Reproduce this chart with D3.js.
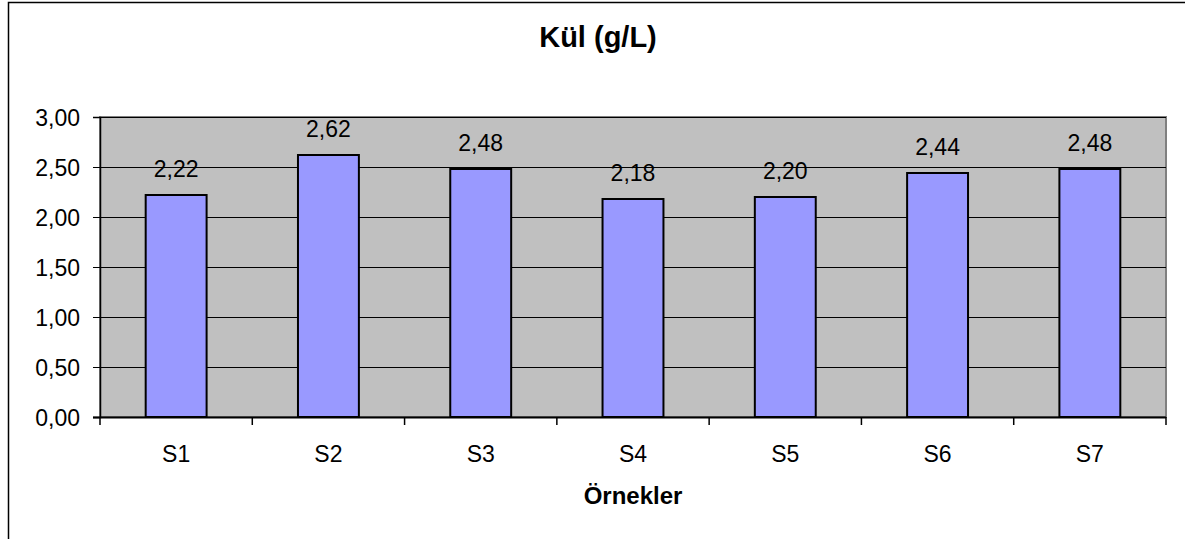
<!DOCTYPE html>
<html>
<head>
<meta charset="utf-8">
<script src="https://cdn.jsdelivr.net/npm/d3@7"></script>
<style>
  body { margin: 0; background: #fff; }
  text { font-family: "Liberation Sans", Arial, sans-serif; }
</style>
</head>
<body>
<div id="chart"></div>
<script>
// data
var categories = ["S1", "S2", "S3", "S4", "S5", "S6", "S7"];
var values = [2.22, 2.62, 2.48, 2.18, 2.20, 2.44, 2.48];
var yTicks = [0, 0.5, 1, 1.5, 2, 2.5, 3];

var width = 1185, height = 539;
var plot = { left: 100, top: 117, right: 1166, bottom: 417 };

var fmt = function (v) { return d3.format(".2f")(v).replace(".", ","); };

var svg = d3.select("#chart").append("svg")
    .attr("width", width)
    .attr("height", height);

// outer chart border
svg.append("rect")
    .attr("x", 8.5).attr("y", 2.5)
    .attr("width", width).attr("height", height)
    .attr("fill", "#fff")
    .attr("stroke", "#000")
    .attr("stroke-width", 1.5);

var x = d3.scaleBand()
    .domain(categories)
    .range([plot.left, plot.right])
    .paddingInner(0.6)
    .paddingOuter(0.3);

var y = d3.scaleLinear()
    .domain([0, 3])
    .range([plot.bottom, plot.top]);

// plot background
svg.append("rect")
    .attr("x", plot.left).attr("y", plot.top)
    .attr("width", plot.right - plot.left)
    .attr("height", plot.bottom - plot.top)
    .attr("fill", "#c0c0c0")
    .attr("stroke", "#808080")
    .attr("stroke-width", 2);

// gridlines
svg.append("g").selectAll("line")
    .data(yTicks.filter(function (d) { return d > 0; }))
    .enter().append("line")
    .attr("x1", plot.left).attr("x2", plot.right)
    .attr("y1", function (d) { return Math.round(y(d)) + 0.5; })
    .attr("y2", function (d) { return Math.round(y(d)) + 0.5; })
    .attr("stroke", "#000")
    .attr("stroke-width", 1);

// bars
svg.append("g").selectAll("rect")
    .data(values)
    .enter().append("rect")
    .attr("x", function (d, i) { return x(categories[i]); })
    .attr("y", function (d) { return y(d); })
    .attr("width", x.bandwidth())
    .attr("height", function (d) { return plot.bottom - y(d); })
    .attr("fill", "#9999ff")
    .attr("stroke", "#000")
    .attr("stroke-width", 2);

// value labels
svg.append("g").selectAll("text")
    .data(values)
    .enter().append("text")
    .attr("x", function (d, i) { return x(categories[i]) + x.bandwidth() / 2; })
    .attr("y", function (d) { return y(d) - 18; })
    .attr("text-anchor", "middle")
    .attr("font-size", 23)
    .text(function (d) { return fmt(d); });

// y axis
var yAxis = svg.append("g")
    .attr("transform", "translate(" + plot.left + ",0)")
    .call(d3.axisLeft(y).tickValues(yTicks).tickSize(7).tickPadding(13).tickFormat(fmt));
yAxis.select(".domain").attr("stroke", "#000").attr("stroke-width", 1.5);
yAxis.selectAll(".tick line").attr("stroke", "#000");
yAxis.selectAll(".tick text")
    .attr("font-size", 23)
    .attr("fill", "#000")
    .attr("dy", "0.35em")
    .style("font-family", "'Liberation Sans', Arial, sans-serif");

// x axis (ticks at category boundaries)
var xLine = svg.append("g");
xLine.append("line")
    .attr("x1", plot.left - 7).attr("x2", plot.right)
    .attr("y1", plot.bottom + 0.5).attr("y2", plot.bottom + 0.5)
    .attr("stroke", "#000").attr("stroke-width", 2);
var step = (plot.right - plot.left) / categories.length;
xLine.selectAll("line.tk")
    .data(d3.range(categories.length + 1))
    .enter().append("line")
    .attr("class", "tk")
    .attr("x1", function (i) { return plot.left + i * step; })
    .attr("x2", function (i) { return plot.left + i * step; })
    .attr("y1", plot.bottom).attr("y2", plot.bottom + 8)
    .attr("stroke", "#000").attr("stroke-width", 1.5);

svg.append("g").selectAll("text")
    .data(categories)
    .enter().append("text")
    .attr("x", function (d) { return x(d) + x.bandwidth() / 2; })
    .attr("y", 462)
    .attr("text-anchor", "middle")
    .attr("font-size", 23)
    .text(function (d) { return d; });

// titles
svg.append("text")
    .attr("x", 598).attr("y", 47)
    .attr("text-anchor", "middle")
    .attr("font-size", 29)
    .attr("font-weight", "bold")
    .text("Kül (g/L)");

svg.append("text")
    .attr("x", 633).attr("y", 504)
    .attr("text-anchor", "middle")
    .attr("font-size", 24)
    .attr("font-weight", "bold")
    .text("Örnekler");
</script>
</body>
</html>
